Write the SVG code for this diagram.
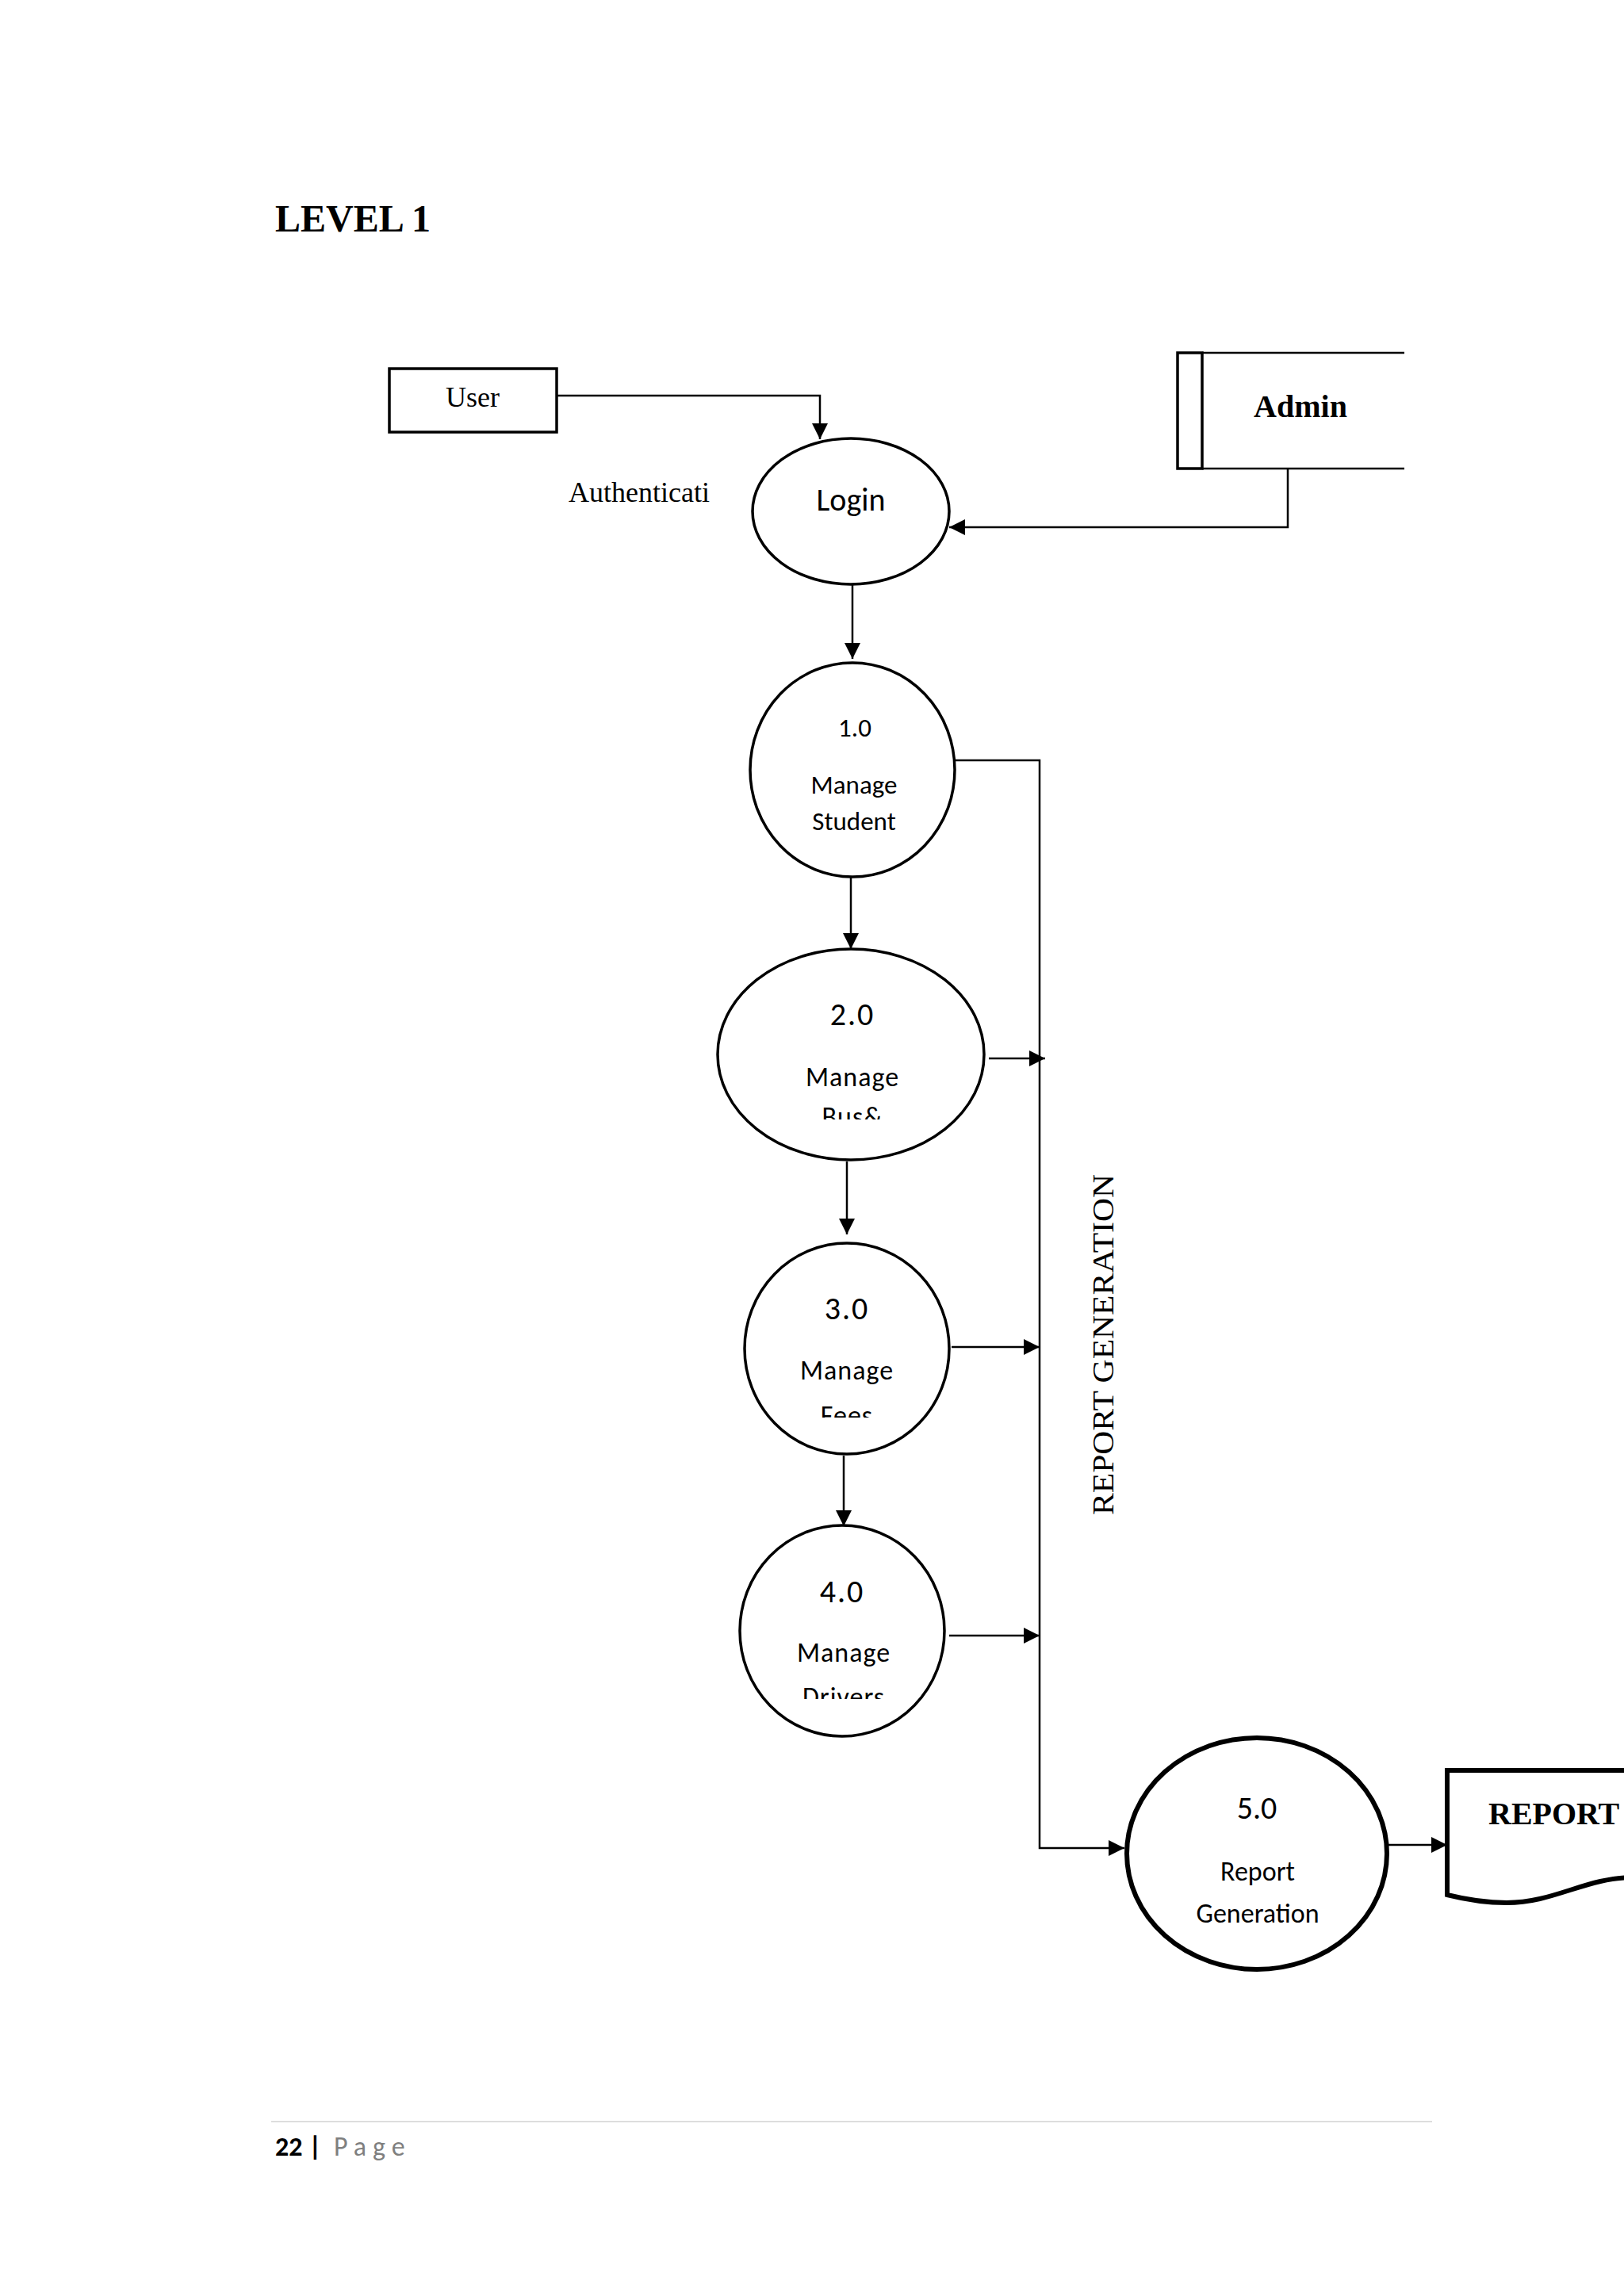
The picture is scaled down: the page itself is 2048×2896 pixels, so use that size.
<svg xmlns="http://www.w3.org/2000/svg" width="2048" height="2896" viewBox="0 0 2048 2896">
<style>
.s{fill:none;stroke:#000;stroke-width:2.5}
.n{fill:#fff;stroke:#000;stroke-width:3.5}
.c{font-family:Carlito,"Liberation Sans",sans-serif;text-anchor:middle;fill:#000}
.t{font-family:"Liberation Serif",serif;fill:#000}
</style>
<defs>
<marker id="a" viewBox="0 0 10 10" refX="10" refY="5" markerWidth="8" markerHeight="8" markerUnits="userSpaceOnUse" orient="auto"><path d="M0,0L10,5L0,10z" fill="#000"/></marker>
<marker id="b" viewBox="0 0 10 10" refX="10" refY="5" markerWidth="20" markerHeight="20" markerUnits="userSpaceOnUse" orient="auto"><path d="M0,0L10,5L0,10z" fill="#000"/></marker>
<clipPath id="k2"><rect x="900" y="1190" width="350" height="222"/></clipPath>
<clipPath id="k3"><rect x="900" y="1560" width="350" height="228"/></clipPath>
<clipPath id="k4"><rect x="900" y="1920" width="350" height="223"/></clipPath>
</defs>
<rect width="2048" height="2896" fill="#fff"/>
<text class="t" x="347" y="292" font-size="48" font-weight="bold">LEVEL 1</text>
<g id="connectors" class="s">
<path d="M702,499H1034V554" marker-end="url(#b)"/>
<path d="M1624,591V665H1197" marker-end="url(#b)"/>
<path d="M1075,737V831" marker-end="url(#b)"/>
<path d="M1204,959H1311V2331H1418" marker-end="url(#b)"/>
<path d="M1073,1106V1197" marker-end="url(#b)"/>
<path d="M1247,1335H1318" marker-end="url(#b)"/>
<path d="M1068,1465V1557" marker-end="url(#b)"/>
<path d="M1200,1699H1311" marker-end="url(#b)"/>
<path d="M1064,1836V1925" marker-end="url(#b)"/>
<path d="M1197,2063H1311" marker-end="url(#b)"/>
<path d="M1751,2327H1825" marker-end="url(#b)"/>
</g>
<g id="user"><rect x="491" y="465" width="211" height="80" class="n"/><text class="t" x="596" y="513" font-size="36" text-anchor="middle">User</text></g>
<g id="admin"><rect x="1485" y="445" width="31" height="146" class="n"/><path d="M1516,445H1771M1516,591H1771" class="s"/><text class="t" x="1640" y="526" font-size="40" font-weight="bold" text-anchor="middle">Admin</text></g>
<text class="t" x="717" y="633" font-size="36">Authenticati</text>
<g id="login"><ellipse cx="1073" cy="645" rx="124" ry="92" class="n"/><text class="c" x="1073" y="644" font-size="40">Login</text></g>
<g id="p1"><ellipse cx="1075" cy="971" rx="129" ry="135" class="n"/><text class="c" x="1078" y="929" font-size="33">1.0</text><text class="c" x="1077" y="1001" font-size="33">Manage</text><text class="c" x="1077" y="1047" font-size="33">Student</text></g>
<g id="p2"><ellipse cx="1073" cy="1330" rx="168" ry="133" class="n"/><g clip-path="url(#k2)"><text class="c" x="1075" y="1293" font-size="40" letter-spacing="2">2.0</text><text class="c" x="1075" y="1370" font-size="34" letter-spacing="1">Manage</text><text class="c" x="1075" y="1420" font-size="34" letter-spacing="1">Bus&amp;</text></g></g>
<g id="p3"><ellipse cx="1068" cy="1701" rx="129" ry="133" class="n"/><g clip-path="url(#k3)"><text class="c" x="1068" y="1664" font-size="40" letter-spacing="2">3.0</text><text class="c" x="1068" y="1740" font-size="34" letter-spacing="1">Manage</text><text class="c" x="1068" y="1797" font-size="34" letter-spacing="1">Fees</text></g></g>
<g id="p4"><ellipse cx="1062" cy="2057" rx="129" ry="133" class="n"/><g clip-path="url(#k4)"><text class="c" x="1062" y="2021" font-size="40" letter-spacing="2">4.0</text><text class="c" x="1064" y="2096" font-size="34" letter-spacing="1">Manage</text><text class="c" x="1064" y="2152" font-size="34" letter-spacing="1">Drivers</text></g></g>
<text class="t" x="0" y="0" font-size="38" textLength="430" lengthAdjust="spacingAndGlyphs" text-anchor="middle" transform="translate(1404,1696) rotate(-90)">REPORT GENERATION</text>
<g id="p5"><ellipse cx="1585" cy="2338" rx="164" ry="146" fill="#fff" stroke="#000" stroke-width="6"/><text class="c" x="1585" y="2294" font-size="40">5.0</text><text class="c" x="1586" y="2372" font-size="34">Report</text><text class="c" x="1586" y="2425" font-size="34">Generation</text></g>
<g id="report"><path d="M1825,2233H2060V2368C2000,2368 1960,2400 1900,2400C1870,2400 1845,2395 1825,2390Z" fill="#fff" stroke="#000" stroke-width="6"/><text class="t" x="1877" y="2301" font-size="40" font-weight="bold">REPORT</text></g>
<path d="M342,2676H1806" stroke="#ddd" stroke-width="2"/>
<text x="347" y="2719" font-family="Carlito,'Liberation Sans',sans-serif" font-size="34"><tspan font-weight="bold">22 |</tspan><tspan fill="#7f7f7f" letter-spacing="8"> Page</tspan></text>
</svg>
